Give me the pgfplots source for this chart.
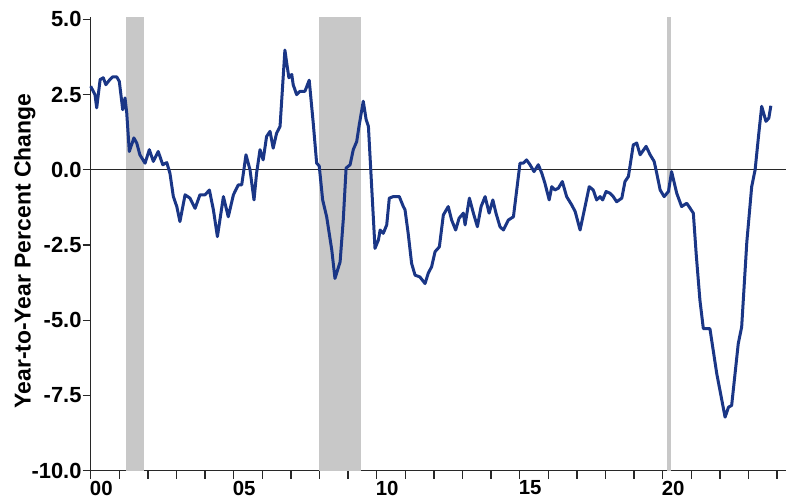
\documentclass[border=0pt]{standalone}
\usepackage{fontspec}
\setmainfont{Liberation Sans}
\usepackage{pgfplots}
\pgfplotsset{compat=1.18}

\definecolor{lineblue}{RGB}{26,54,134}
\definecolor{bandgray}{RGB}{200,200,200}
\definecolor{axisgray}{RGB}{40,40,40}

\begin{document}
\begin{tikzpicture}
\begin{axis}[
    scale only axis,
    width=695.3bp, height=453.7bp,
    xmin=2000, xmax=2024.31,
    ymin=-10, ymax=5.08,
    axis x line=bottom, axis y line=left,
    axis line style={-, axisgray, line width=1.5bp},
    tick align=outside,
    major tick length=8bp,
    tick style={axisgray, line width=1.3bp},
    xtick={2000,...,2024},
    xticklabels={00,,,,,05,,,,,10,,,,,15,,,,,20,,,,},
    ytick={-10,-7.5,-5,-2.5,0,2.5,5},
    /pgf/number format/assume math mode=true,
    yticklabel style={/pgf/number format/.cd, fixed, fixed zerofill, precision=1, /tikz/.cd,
        font=\fontsize{22}{22}\selectfont\bfseries, inner sep=1bp},
    xticklabel style={font=\fontsize{20.5}{20.5}\selectfont\bfseries, anchor=north west,
        xshift=-1bp, inner sep=0bp, yshift=-2bp},
    ylabel={Year-to-Year Percent Change},
    ylabel style={font=\fontsize{23}{23}\selectfont\bfseries,
        at={(axis description cs:-0.095,0.484)}, anchor=center},
    clip=false,
]
% recession bands
\addplot[fill=bandgray, draw=none] coordinates {(2001.22,-10) (2001.22,5.08) (2001.87,5.08) (2001.87,-10)} -- cycle;
\addplot[fill=bandgray, draw=none] coordinates {(2007.98,-10) (2007.98,5.08) (2009.45,5.08) (2009.45,-10)} -- cycle;
\addplot[fill=bandgray, draw=none] coordinates {(2020.14,-10) (2020.14,5.08) (2020.29,5.08) (2020.29,-10)} -- cycle;
% zero line
\addplot[axisgray, line width=1.1bp] coordinates {(2000,0) (2024.31,0)};
% series
\addplot[lineblue, line width=3bp, line join=round] coordinates {
(2000.00,2.78) (2000.03,2.72) (2000.15,2.50) (2000.21,2.06) (2000.33,3.00)
(2000.44,3.06) (2000.53,2.83) (2000.67,3.00) (2000.77,3.09) (2000.91,3.09)
(2001.00,2.94) (2001.12,2.00) (2001.20,2.39) (2001.26,1.89) (2001.35,0.61)
(2001.51,1.06) (2001.61,0.89) (2001.72,0.50) (2001.90,0.22) (2002.05,0.67)
(2002.19,0.28) (2002.36,0.61) (2002.52,0.17) (2002.66,0.24) (2002.77,-0.11)
(2002.89,-0.89) (2003.01,-1.22) (2003.12,-1.72) (2003.30,-0.83) (2003.47,-0.94)
(2003.65,-1.28) (2003.82,-0.83) (2004.00,-0.83) (2004.15,-0.67) (2004.29,-1.33)
(2004.43,-2.22) (2004.64,-0.89) (2004.81,-1.56) (2004.99,-0.83) (2005.16,-0.50)
(2005.28,-0.50) (2005.43,0.50) (2005.57,0.00) (2005.71,-1.00) (2005.80,-0.11)
(2005.92,0.67) (2006.03,0.33) (2006.15,1.11) (2006.27,1.28) (2006.38,0.72)
(2006.50,1.22) (2006.62,1.44) (2006.79,3.98) (2006.87,3.44) (2006.93,3.06)
(2007.03,3.17) (2007.08,2.83) (2007.20,2.50) (2007.32,2.61) (2007.49,2.61)
(2007.64,2.98) (2007.78,1.56) (2007.90,0.22) (2007.99,0.13) (2008.11,-1.00)
(2008.25,-1.56) (2008.43,-2.67) (2008.54,-3.61) (2008.72,-3.06) (2008.83,-1.67)
(2008.93,0.06) (2009.07,0.17) (2009.18,0.67) (2009.30,0.94) (2009.39,1.50)
(2009.53,2.28) (2009.63,1.67) (2009.71,1.44) (2009.94,-2.61) (2010.06,-2.33)
(2010.12,-2.00) (2010.23,-2.11) (2010.35,-1.83) (2010.44,-0.94) (2010.58,-0.89)
(2010.79,-0.89) (2010.93,-1.22) (2010.99,-1.33) (2011.10,-2.11) (2011.22,-3.11)
(2011.34,-3.50) (2011.51,-3.56) (2011.69,-3.78) (2011.80,-3.44) (2011.92,-3.22)
(2012.04,-2.72) (2012.19,-2.56) (2012.33,-1.50) (2012.50,-1.22) (2012.62,-1.67)
(2012.76,-2.00) (2012.88,-1.61) (2013.03,-1.44) (2013.09,-1.83) (2013.24,-0.94)
(2013.38,-1.44) (2013.52,-1.89) (2013.65,-1.22) (2013.79,-0.89) (2013.93,-1.44)
(2014.06,-1.00) (2014.17,-1.44) (2014.31,-1.89) (2014.43,-2.00) (2014.60,-1.67)
(2014.78,-1.56) (2015.01,0.22) (2015.12,0.22) (2015.24,0.33) (2015.36,0.17)
(2015.50,-0.06) (2015.65,0.17) (2015.77,-0.11) (2015.88,-0.44) (2016.03,-1.00)
(2016.12,-0.56) (2016.23,-0.67) (2016.35,-0.61) (2016.49,-0.39) (2016.64,-0.89)
(2016.82,-1.17) (2016.94,-1.39) (2017.11,-2.00) (2017.26,-1.33) (2017.43,-0.56)
(2017.57,-0.67) (2017.69,-1.00) (2017.81,-0.89) (2017.90,-1.00) (2018.02,-0.72)
(2018.16,-0.78) (2018.27,-0.89) (2018.39,-1.06) (2018.57,-0.94) (2018.68,-0.39)
(2018.80,-0.22) (2018.97,0.83) (2019.09,0.89) (2019.21,0.50) (2019.42,0.78)
(2019.56,0.50) (2019.70,0.28) (2019.79,-0.11) (2019.91,-0.67) (2020.05,-0.89)
(2020.20,-0.72) (2020.31,-0.06) (2020.49,-0.78) (2020.66,-1.22) (2020.84,-1.11)
(2020.96,-1.28) (2021.07,-1.44) (2021.17,-2.80) (2021.30,-4.33) (2021.42,-5.28)
(2021.65,-5.28) (2021.89,-6.78) (2022.18,-8.22) (2022.30,-7.89) (2022.41,-7.83)
(2022.64,-5.78) (2022.76,-5.22) (2022.94,-2.40) (2023.11,-0.56) (2023.23,0.00)
(2023.36,1.22) (2023.46,2.11) (2023.61,1.61) (2023.71,1.72) (2023.78,2.13)
};
\coordinate (bl) at (rel axis cs:0,0);
\end{axis}
\pgfresetboundingbox
\path[use as bounding box] ([shift={(-90.7bp,-33.3bp)}]bl) rectangle ([shift={(695.3bp,470.7bp)}]bl);
\end{tikzpicture}
\end{document}
